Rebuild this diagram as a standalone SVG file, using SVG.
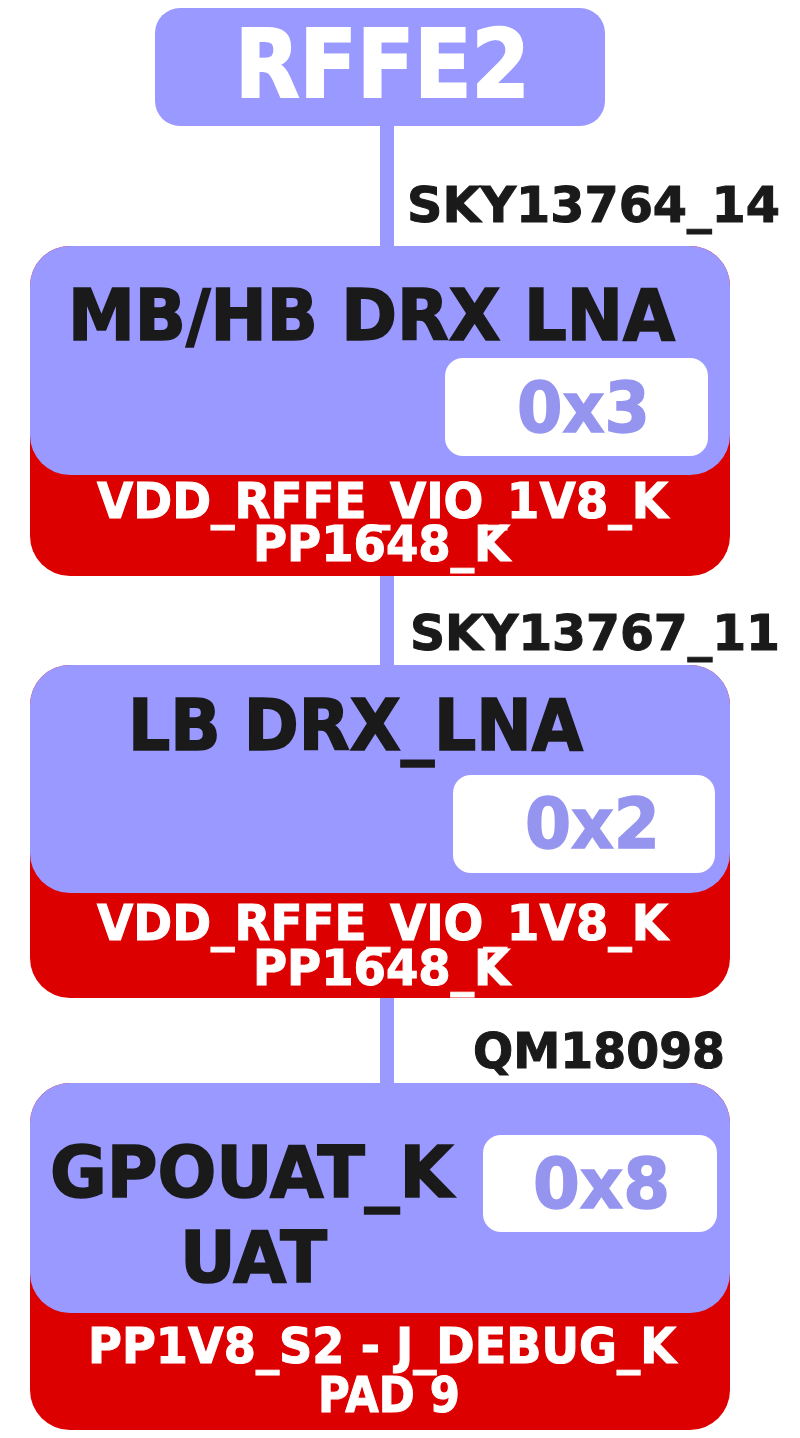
<svg xmlns="http://www.w3.org/2000/svg" width="800" height="1438" viewBox="0 0 800 1438">
<style>
.t{font-family:"DejaVu Sans Condensed","DejaVu Sans",sans-serif;font-weight:bold}
.pur{fill:#9999FF}
.red{fill:#DD0000}
.wb{fill:#FFFFFF}
.title{fill:#1A1A1A;stroke:#1A1A1A;stroke-width:1.6px;font-size:72px}
.hex{fill:#9595F0;stroke:#9595F0;stroke-width:1.4px;font-size:70px}
.pw{fill:#FFFFFF;stroke:#FFFFFF;stroke-width:1px;font-size:49px}
.lbl{fill:#1A1A1A;stroke:#1A1A1A;stroke-width:1px;font-size:50px}
.conn{stroke:#9999FF;stroke-width:14;fill:none}
</style>
<rect width="800" height="1438" fill="#FFFFFF"/>
<g id="connectors">
<line class="conn" x1="387" y1="120" x2="387" y2="250"/>
<line class="conn" x1="387" y1="570" x2="387" y2="670"/>
<line class="conn" x1="387" y1="990" x2="387" y2="1088"/>
<text class="t lbl" x="407" y="222" textLength="373" lengthAdjust="spacingAndGlyphs">SKY13764_14</text>
<text class="t lbl" x="410" y="650" textLength="370" lengthAdjust="spacingAndGlyphs">SKY13767_11</text>
<text class="t lbl" x="473" y="1068" textLength="252" lengthAdjust="spacingAndGlyphs">QM18098</text>
</g>
<g id="rffe2">
<rect class="pur" x="155" y="8" width="450" height="118" rx="25"/>
<text class="t" x="235" y="97" font-size="95" fill="#FFFFFF" stroke="#FFFFFF" stroke-width="2" textLength="295" lengthAdjust="spacingAndGlyphs">RFFE2</text>
</g>
<g id="node1">
<rect class="red" x="30" y="246" width="700" height="330" rx="40"/>
<rect class="pur" x="30" y="246" width="700" height="229" rx="40"/>
<text class="t title" x="68" y="340" textLength="607" lengthAdjust="spacingAndGlyphs">MB/HB DRX LNA</text>
<rect class="wb" x="445" y="358" width="263" height="98" rx="18"/>
<text class="t hex" x="517" y="432" textLength="133" lengthAdjust="spacingAndGlyphs">0x3</text>
<text class="t pw" x="97" y="518" textLength="571" lengthAdjust="spacingAndGlyphs">VDD_RFFE_VIO_1V8_K</text>
<text class="t pw" x="253" y="561" textLength="257" lengthAdjust="spacingAndGlyphs">PP1648_K</text>
</g>
<g id="node2">
<rect class="red" x="30" y="665" width="700" height="333" rx="40"/>
<rect class="pur" x="30" y="665" width="700" height="228" rx="40"/>
<text class="t title" x="128" y="750" textLength="455" lengthAdjust="spacingAndGlyphs">LB DRX_LNA</text>
<rect class="wb" x="453" y="775" width="262" height="98" rx="18"/>
<text class="t hex" x="525" y="848" textLength="135" lengthAdjust="spacingAndGlyphs">0x2</text>
<text class="t pw" x="97" y="940" textLength="571" lengthAdjust="spacingAndGlyphs">VDD_RFFE_VIO_1V8_K</text>
<text class="t pw" x="253" y="985" textLength="257" lengthAdjust="spacingAndGlyphs">PP1648_K</text>
</g>
<g id="node3">
<rect class="red" x="30" y="1083" width="700" height="347" rx="40"/>
<rect class="pur" x="30" y="1083" width="700" height="230" rx="40"/>
<text class="t title" x="50" y="1197" textLength="403" lengthAdjust="spacingAndGlyphs">GPOUAT_K</text>
<text class="t title" x="180" y="1282" textLength="147" lengthAdjust="spacingAndGlyphs">UAT</text>
<rect class="wb" x="483" y="1135" width="234" height="97" rx="18"/>
<text class="t hex" x="533" y="1208" textLength="137" lengthAdjust="spacingAndGlyphs">0x8</text>
<text class="t pw" x="88" y="1363" textLength="588" lengthAdjust="spacingAndGlyphs">PP1V8_S2 - J_DEBUG_K</text>
<text class="t pw" x="318" y="1412" textLength="142" lengthAdjust="spacingAndGlyphs">PAD 9</text>
</g>
</svg>
